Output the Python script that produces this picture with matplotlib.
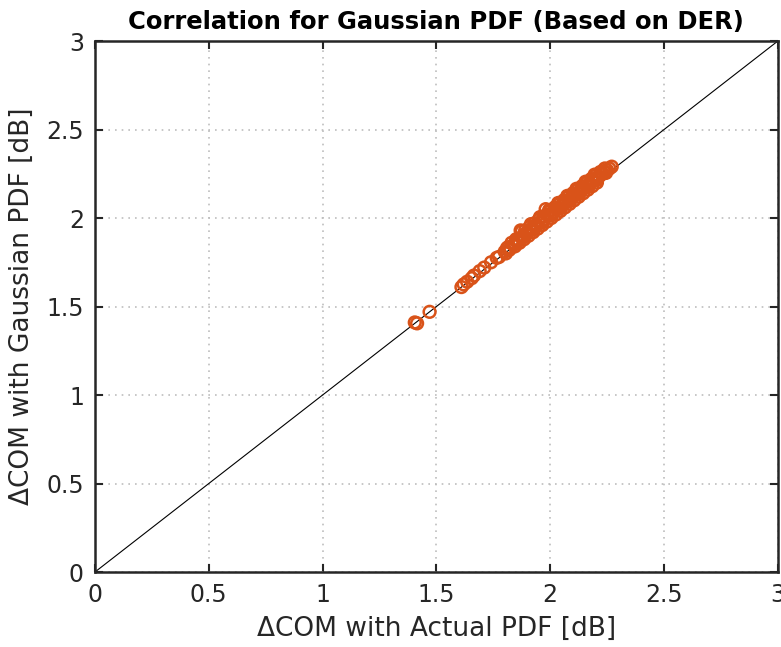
import matplotlib
matplotlib.use("Agg")
import matplotlib.pyplot as plt

title = "Correlation for Gaussian PDF (Based on DER)"
xlabel = "\u0394COM with Actual PDF [dB]"
ylabel = "\u0394COM with Gaussian PDF [dB]"
ticks = [0, 0.5, 1, 1.5, 2, 2.5, 3]
tick_labels = ["0", "0.5", "1", "1.5", "2", "2.5", "3"]

actual_pdf = [
    1.405, 1.415, 1.470,
    1.610, 1.620, 1.635, 1.655, 1.665, 1.690, 1.710, 1.740, 1.765, 1.775,
    1.800, 1.810, 1.820, 1.830, 1.840, 1.850, 1.860, 1.870, 1.880, 1.890,
    1.900, 1.910, 1.920, 1.930, 1.940, 1.950, 1.960, 1.970, 1.980, 1.990,
    2.000, 2.010, 2.020, 2.030, 2.040, 2.050, 2.060, 2.070, 2.080, 2.090,
    2.100, 2.110, 2.120, 2.130, 2.140, 2.150, 2.160, 2.170, 2.180, 2.190,
    2.200, 2.210, 2.220, 2.230, 2.240, 2.250, 2.260, 2.270,
    1.805, 1.825, 1.845, 1.865, 1.885, 1.905, 1.925, 1.945, 1.965, 1.985,
    2.005, 2.025, 2.045, 2.065, 2.085, 2.105, 2.125, 2.145, 2.165, 2.185,
    2.205,
    1.815, 1.855, 1.895, 1.935, 1.975, 2.015, 2.055, 2.095, 2.135, 2.175,
    2.215,
    1.875, 1.915, 1.955, 1.995, 2.035, 2.075, 2.115, 2.155, 2.195,
    1.845, 1.885, 1.925, 1.965, 2.005, 2.045, 2.085, 2.125, 2.165, 2.205,
    2.235, 2.245,
]
gaussian_pdf = [
    1.410, 1.405, 1.470,
    1.610, 1.625, 1.640, 1.660, 1.675, 1.700, 1.720, 1.750, 1.775, 1.780,
    1.810, 1.830, 1.820, 1.860, 1.850, 1.880, 1.870, 1.930, 1.900, 1.930,
    1.920, 1.950, 1.940, 1.970, 1.960, 1.990, 1.980, 2.010, 2.050, 2.020,
    2.040, 2.030, 2.060, 2.050, 2.080, 2.070, 2.100, 2.090, 2.120, 2.110,
    2.140, 2.130, 2.160, 2.150, 2.180, 2.170, 2.200, 2.190, 2.220, 2.210,
    2.240, 2.230, 2.260, 2.250, 2.280, 2.270, 2.280, 2.290,
    1.800, 1.830, 1.840, 1.860, 1.880, 1.900, 1.920, 1.940, 1.960, 1.980,
    2.000, 2.020, 2.040, 2.060, 2.080, 2.100, 2.120, 2.140, 2.160, 2.180,
    2.200,
    1.835, 1.875, 1.915, 1.955, 1.995, 2.035, 2.075, 2.115, 2.155, 2.195,
    2.235,
    1.925, 1.965, 2.005, 2.045, 2.085, 2.125, 2.165, 2.205, 2.245,
    1.855, 1.895, 1.935, 1.975, 2.015, 2.055, 2.095, 2.135, 2.175, 2.215,
    2.265, 2.255,
]

plt.rcParams['font.family'] = ['DejaVu Sans']

fig = plt.figure(figsize=(7.81, 6.47), dpi=100)
ax = fig.add_axes([0.1216, 0.1159, 0.8744, 0.8207])

ax.plot([0, 3], [0, 3], color='black', linewidth=0.8, zorder=2)
ax.scatter(actual_pdf, gaussian_pdf, s=72, facecolors='none',
           edgecolors='#D95319', linewidths=1.8, zorder=3)

ax.set_xlim(0, 3)
ax.set_ylim(0, 3)
ax.set_xticks(ticks)
ax.set_yticks(ticks)
ax.set_xticklabels(tick_labels)
ax.set_yticklabels(tick_labels)
ax.tick_params(direction='in', length=6, width=1.5, top=True, right=True,
               labelsize=17, pad=8, colors='#262626')
for s in ax.spines.values():
    s.set_linewidth(1.8)
    s.set_color('#262626')
ax.grid(True, linestyle=(0, (1, 3)), color='#BDBDBD', linewidth=1.2)
ax.set_axisbelow(True)

ax.set_title(title, fontsize=17.5, fontweight='bold', color='black', pad=9)
ax.set_xlabel(xlabel, fontsize=19, color='#262626', labelpad=6)
ax.set_ylabel(ylabel, fontsize=19, color='#262626', labelpad=8)

fig.savefig("out.png", dpi=100)
